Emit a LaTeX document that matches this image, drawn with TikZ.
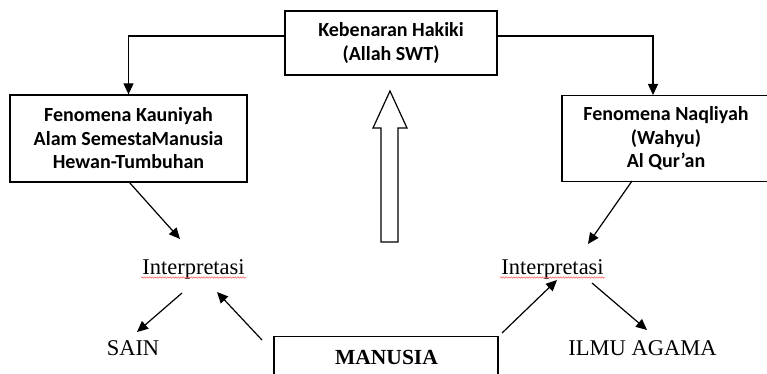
\documentclass[tikz,border=0pt]{standalone}
\usepackage{fontspec}
\setmainfont{Liberation Serif}
\newfontfamily\boxfont{Carlito}
\usetikzlibrary{arrows.meta,decorations.pathmorphing}
\begin{document}
\begin{tikzpicture}[x=1pt,y=-1pt,
  box/.style={draw,line width=1.3pt,align=center,inner sep=0pt,
    font=\boxfont\bfseries\fontsize{20}{23.5}\selectfont},
  lbl/.style={font=\fontsize{22.5}{27}\selectfont,inner sep=0pt,anchor=base},
  arr/.style={line width=1.2pt,-{Triangle[length=11pt,width=10pt]}},
  squig/.style={red!65,line width=0.5pt,decorate,
    decoration={snake,amplitude=0.7pt,segment length=2.6pt}},
]
\useasboundingbox (0,0) rectangle (767,374);

% boxes
\node[box,minimum width=212pt,minimum height=64pt] (top) at (391,43)
  {Kebenaran Hakiki\\(Allah SWT)};
\node[box,minimum width=237pt,minimum height=87pt] (left) at (128.5,138.5)
  {Fenomena Kauniyah\\Alam SemestaManusia\\Hewan-Tumbuhan};
\node[box,minimum width=208pt,minimum height=86pt] (right) at (666,138.5)
  {Fenomena Naqliyah\\(Wahyu)\\Al Qur’an};
\node[draw,line width=1.3pt,minimum width=224pt,minimum height=70pt,anchor=north,inner sep=0pt] (man) at (386,336) {};
\node[lbl,font=\fontsize{21.5}{26}\selectfont\bfseries] (mantext) at (386.5,364) {MANUSIA};

% labels
\node[lbl] (il) at (193.5,274) {Interpretasi};
\node[lbl] (ir) at (552.5,274) {Interpretasi};
\node[lbl] (sain) at (133,355) {SAIN};
\node[lbl] (ilmu) at (642.5,355) {ILMU AGAMA};

% spell-check underlines
\draw[squig] (141,277.5) -- (246,277.5);
\draw[squig] (500,277.5) -- (605,277.5);

% hollow arrow
\draw[line width=1.2pt,line join=miter] (381,242) -- (381,128) -- (373,128) -- (390,91)
  -- (407,128) -- (398,128) -- (398,242) -- cycle;

% coordinates for connector ends
\coordinate (tL) at (285,36);
\coordinate (tR) at (497,36);
\coordinate (rTop) at (653,95);
\coordinate (lBot) at (129,182);
\coordinate (ilIn) at (180,239);
\coordinate (ilOut) at (182,293);
\coordinate (sainIn) at (137,332);
\coordinate (manL) at (262,340);
\coordinate (ilIn2) at (217,292);
\coordinate (rBot) at (632,181);
\coordinate (irIn) at (588,244);
\coordinate (manR) at (502,333);
\coordinate (irIn2) at (557,280);
\coordinate (irOut) at (592,283);
\coordinate (ilmuIn) at (647,330);

% connectors
\draw[arr] (tL) -| (left.north);
\draw[arr] (tR) -| (rTop);
\draw[arr] (lBot) -- (ilIn);
\draw[arr] (ilOut) -- (sainIn);
\draw[arr] (manL) -- (ilIn2);
\draw[arr] (rBot) -- (irIn);
\draw[arr] (manR) -- (irIn2);
\draw[arr] (irOut) -- (ilmuIn);
\end{tikzpicture}
\end{document}
